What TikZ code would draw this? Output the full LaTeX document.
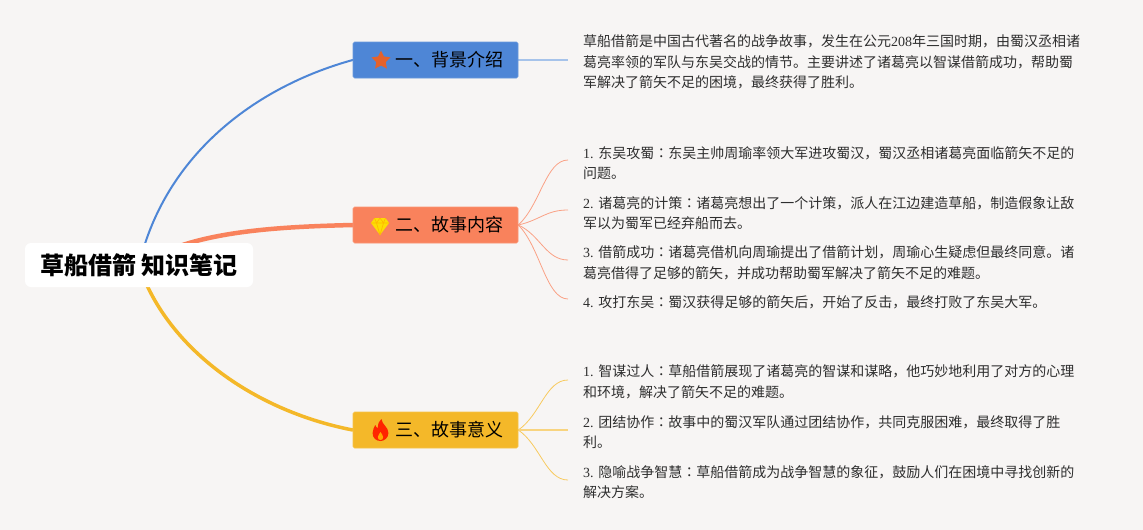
\documentclass[tikz,border=0pt]{standalone}
\usepackage{fontspec}
\setmainfont{Noto Sans CJK SC}
\newfontfamily\latf{Liberation Serif}
\newfontfamily\colf{Noto Sans CJK TC}
\usetikzlibrary{backgrounds,shapes.geometric}
\definecolor{paper}{HTML}{F7F5F4}
\definecolor{blueb}{HTML}{4E86D6}
\definecolor{orangeb}{HTML}{F9825C}
\definecolor{yellowb}{HTML}{F4B829}
\definecolor{starred}{HTML}{E4622C}
\definecolor{leaftext}{HTML}{2E2E2E}
\newcommand{\lnum}[1]{{\latf #1}}
\newcommand{\mcol}{{\colf ：}}
\tikzset{
  x=1pt, y=-1pt,
  rootbox/.style={fill=white, rounded corners=6pt, minimum width=228pt, minimum height=44pt,
    inner sep=0pt, font=\fontsize{24}{28}\selectfont\bfseries},
  catbox/.style={draw=#1!85!white, fill=#1, rounded corners=1.5pt, line width=0.6pt, minimum width=165pt,
    minimum height=36pt, inner sep=0pt, text=black, font=\fontsize{18}{22}\selectfont},
  leafbox/.style={anchor=west, align=left, inner ysep=0pt, inner xsep=15pt, text=leaftext,
    font=\fontsize{14}{20.5}\selectfont},
  branch/.style={draw=#1, line cap=round},
  twig/.style={draw=#1!75!white, line width=0.8pt},
  pics/staricon/.style={code={
    \node[star, star points=5, star point ratio=2, fill=#1, inner sep=0pt, minimum size=20pt] (-star) at (0,0) {};
  }},
  pics/gemicon/.style={code={
    \fill[yellow!80!orange] (-5.5,-8) -- (5.5,-8) -- (9,-3) -- (0,9) -- (-9,-3) -- cycle;
    \draw[orange!55!yellow, line width=0.7pt, line join=round]
      (-9,-3) -- (9,-3) (-5.5,-8) -- (-3.5,-3) -- (0,9) -- (3.5,-3) -- (5.5,-8) (-3.5,-3) -- (0,-8) -- (3.5,-3);
  }},
  pics/flameicon/.style={code={
    \fill[red!72!orange] (1,-11) .. controls (2,-5) and (9,-3) .. (9,3) .. controls (9,8) and (4,11) .. (0,11)
      .. controls (-5,11) and (-9,8) .. (-9,3) .. controls (-9,0) and (-7,-3) .. (-6,-5)
      .. controls (-5,-3) and (-4,-2) .. (-3,-2) .. controls (-3,-6) and (-2,-9) .. (1,-11) -- cycle;
    \fill[orange!70!yellow] (0,2) .. controls (1,4) and (3,5) .. (3,7) .. controls (3,9) and (2,10) .. (0,10)
      .. controls (-2,10) and (-3,9) .. (-3,7) .. controls (-3,5) and (-1,4) .. (0,2) -- cycle;
  }},
}

\begin{document}
\begin{tikzpicture}
  \useasboundingbox (0,0) rectangle (1143,530);

  \node[rootbox] (root) at (139,265) {草船借箭 知识笔记};

  \node[catbox=blueb] (intro) at (435.5,60) {\hspace*{28pt}一、背景介绍};
  \node[catbox=orangeb] (story) at (435.5,225) {\hspace*{28pt}二、故事内容};
  \node[catbox=yellowb] (meaning) at (435.5,430) {\hspace*{28pt}三、故事意义};

  \pic at (381,60.5) {staricon=starred};
  \pic at (380,226) {gemicon};
  \pic[xscale=.88] at (380.5,430) {flameicon};

  \node[leafbox] (introa) at (568,62) {草船借箭是中国古代著名的战争故事，发生在公元\lnum{208}年三国时期，由蜀汉丞相诸\\
    葛亮率领的军队与东吴交战的情节。主要讲述了诸葛亮以智谋借箭成功，帮助蜀\\
    军解决了箭矢不足的困境，最终获得了胜利。};

  \node[leafbox] (storya) at (568,163) {\lnum{1. }东吴攻蜀\mcol 东吴主帅周瑜率领大军进攻蜀汉，蜀汉丞相诸葛亮面临箭矢不足的\\问题。};
  \node[leafbox] (storyb) at (568,213) {\lnum{2. }诸葛亮的计策\mcol 诸葛亮想出了一个计策，派人在江边建造草船，制造假象让敌\\军以为蜀军已经弃船而去。};
  \node[leafbox] (storyc) at (568,263) {\lnum{3. }借箭成功\mcol 诸葛亮借机向周瑜提出了借箭计划，周瑜心生疑虑但最终同意。诸\\葛亮借得了足够的箭矢，并成功帮助蜀军解决了箭矢不足的难题。};
  \node[leafbox] (storyd) at (568,302) {\lnum{4. }攻打东吴\mcol 蜀汉获得足够的箭矢后，开始了反击，最终打败了东吴大军。};

  \node[leafbox] (meana) at (568,382) {\lnum{1. }智谋过人\mcol 草船借箭展现了诸葛亮的智谋和谋略，他巧妙地利用了对方的心理\\和环境，解决了箭矢不足的难题。};
  \node[leafbox] (meanb) at (568,432) {\lnum{2. }团结协作\mcol 故事中的蜀汉军队通过团结协作，共同克服困难，最终取得了胜\\利。};
  \node[leafbox] (meanc) at (568,482) {\lnum{3. }隐喻战争智慧\mcol 草船借箭成为战争智慧的象征，鼓励人们在困境中寻找创新的\\解决方案。};

  \begin{scope}[on background layer]
    \fill[paper] (0,0) rectangle (1143,530);

    \draw[branch=blueb, line width=2pt] (root.center) .. controls (165,155) and (255,87) .. (intro.west);
    \draw[branch=orangeb, line width=4.5pt] (root.center) .. controls (190,232) and (270,227) .. (story.west);
    \draw[branch=yellowb, line width=3.5pt] (root.center) .. controls (165,345) and (250,410) .. (meaning.west);

    \draw[draw=blueb!50!white, line width=1.5pt] (intro.east) -- ([yshift=2pt]introa.west);

    % leaf curves end a little above the text centre
    \foreach \leaf/\lift in {storya/-20, storyb/-5, storyc/10, storyd/22}
      \draw[twig=orangeb] (story.east) .. controls +(22,\lift) and +(-22,0) .. ([yshift=3pt]\leaf.west);
    \foreach \leaf/\lift in {meana/-15, meanc/15}
      \draw[twig=yellowb] (meaning.east) .. controls +(22,\lift) and +(-22,0) .. ([yshift=2pt]\leaf.west);
    \draw[draw=yellowb!60!white, line width=1.2pt] (meaning.east) -- ([yshift=2pt]meanb.west);
  \end{scope}
\end{tikzpicture}
\end{document}
